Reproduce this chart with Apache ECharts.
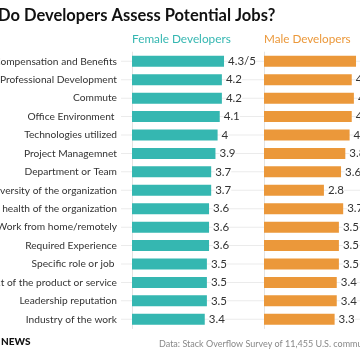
<!DOCTYPE html>
<html><head><meta charset="utf-8">
<script src="https://cdn.jsdelivr.net/npm/echarts@6/dist/echarts.min.js"></script>
<style>html,body{margin:0;padding:0;background:#fff;overflow:hidden}#c{width:360px;height:360px}</style>
</head><body><div id="c"></div>
<script>
const titleText = 'How Do Developers Assess Potential Jobs?';
const femaleName = 'Female Developers';
const maleName = 'Male Developers';
const sourceText = 'Data: Stack Overflow Survey of 11,455 U.S. community members';
const brandText = 'NEWS';
const categories = ['Compensation and Benefits','Professional Development','Commute','Office Environment ','Technologies utilized','Project Managemnet','Department or Team','Diversity of the organization','Financial health of the organization','Work from home/remotely','Required Experience','Specific role or job ','Impact of the product or service','Leadership reputation','Industry of the work'];
const femaleValues = [4.3,4.2,4.2,4.1,4,3.9,3.7,3.7,3.6,3.6,3.6,3.5,3.5,3.5,3.4];
const maleValues = [4.3,4.1,4.2,4.1,4,3.8,3.6,2.8,3.7,3.5,3.5,3.5,3.4,3.4,3.3];
const gridLine = categories.map(() => 1);

const TEAL = '#35b7b1', ORANGE = '#eb983a';
const FONT = 'Lato';
const gTop = 52.1, gH = 276.4;
const chart = echarts.init(document.getElementById('c'), null, {renderer:'canvas'});
const lbl = (p) => p.dataIndex === 0 ? p.value + '/5' : String(p.value);
const catAxis = (gi, showLabel) => ({
  type:'category', gridIndex:gi, data:categories, inverse:true,
  axisLine:{show:gi!==0, lineStyle:{color:'#e3e3e3'}},
  axisTick:{show:false},
  axisLabel:{show:showLabel, margin:15, color:'#333', fontSize:10.2, fontFamily:FONT},
  splitLine:{show:false}
});
chart.setOption({
  animation:false,
  grid:[
    {left:121, top:gTop, width:300, height:gH, outerBoundsMode:'none', containLabel:false},
    {left:132, top:gTop, width:107, height:gH, outerBoundsMode:'none', containLabel:false},
    {left:264, top:gTop, width:107, height:gH, outerBoundsMode:'none', containLabel:false}
  ],
  xAxis:[
    {type:'value', gridIndex:0, min:0, max:1, show:false},
    {type:'value', gridIndex:1, min:0, max:5, show:false},
    {type:'value', gridIndex:2, min:0, max:5, show:false}
  ],
  yAxis:[catAxis(0,false), catAxis(1,true), catAxis(2,false)],
  graphic:[
    {type:'text', x:-41, y:16, style:{text:titleText, fontFamily:FONT, fontWeight:'bold', fontSize:16.5, fill:'#111', textVerticalAlign:'middle'}},
    {type:'text', x:132, y:39.5, style:{text:femaleName, fontFamily:FONT, fontSize:11.8, fill:TEAL, textVerticalAlign:'middle'}},
    {type:'text', x:264, y:39.5, style:{text:maleName, fontFamily:FONT, fontSize:11.7, fill:ORANGE, textVerticalAlign:'middle'}},
    {type:'text', x:159, y:344, style:{text:sourceText, fontFamily:FONT, fontSize:9, fill:'#888', textVerticalAlign:'middle'}},
    {type:'text', x:1, y:341.5, style:{text:brandText, fontFamily:FONT, fontWeight:'900', fontSize:10, fill:'#111', textVerticalAlign:'middle'}}
  ],
  series:[
    {type:'bar', xAxisIndex:0, yAxisIndex:0, data:gridLine, barWidth:1, itemStyle:{color:'#ebebeb'}, silent:true, z:1},
    {type:'bar', xAxisIndex:1, yAxisIndex:1, data:femaleValues, barWidth:11, itemStyle:{color:TEAL}, z:3,
      label:{show:true, position:'right', distance:4, color:'#333', fontSize:11.5, fontFamily:FONT, formatter:lbl, backgroundColor:'#fff'}},
    {type:'bar', xAxisIndex:2, yAxisIndex:2, data:maleValues, barWidth:11, itemStyle:{color:ORANGE}, z:3,
      label:{show:true, position:'right', distance:4, color:'#333', fontSize:11.5, fontFamily:FONT, formatter:lbl, backgroundColor:'#fff'}}
  ]
});
</script></body></html>
